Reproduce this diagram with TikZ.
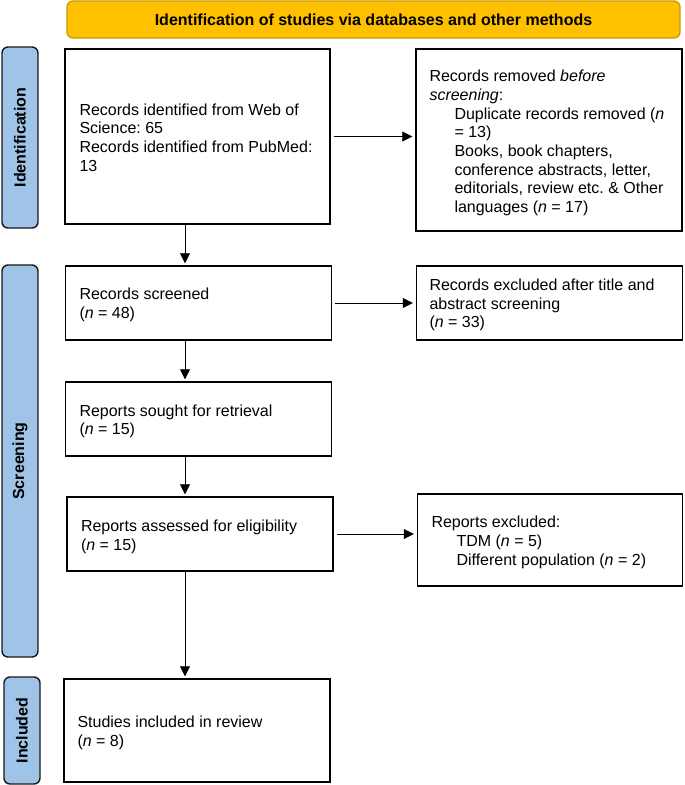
\documentclass[tikz,border=0pt]{standalone}
\usepackage{fontspec}
\setmainfont{Liberation Sans}
\usetikzlibrary{arrows.meta}
\definecolor{gold}{HTML}{FFC000}
\definecolor{goldline}{HTML}{C99A06}
\definecolor{sideblue}{HTML}{A0C4E8}
\tikzset{
  box/.style={draw=black, line width=1.4pt, fill=white, inner sep=0pt},
  boxtext/.style={anchor=west, align=left, inner sep=0pt,
    font=\fontsize{16}{18.7}\selectfont},
  side/.style={draw=black!90, line width=1.4pt, fill=sideblue, rounded corners=6pt,
    minimum width=36pt, inner sep=0pt, font=\bfseries\fontsize{16}{18}\selectfont},
  arr/.style={line width=0.8pt, -{Triangle[length=10pt,width=10pt]}},
}
\newcommand{\nn}{\textit{n}}
\newcommand{\ind}{\hspace*{25pt}}
\begin{document}
\frenchspacing
\begin{tikzpicture}[x=1pt,y=-1pt]
\useasboundingbox (0,0) rectangle (685,785);
% banner
\node[draw=goldline, line width=1.3pt, fill=gold, rounded corners=6pt,
  minimum width=613pt, minimum height=37pt, inner sep=0pt,
  font=\bfseries\fontsize{16}{18}\selectfont] (ban) at (373.5,19.5)
  {Identification of studies via databases and other methods};
% side labels
\node[side, minimum height=181pt] (sid) at (20,137.5) {\rotatebox{90}{Identification}};
\node[side, minimum height=392pt] (sscr) at (20,461) {\rotatebox{90}{Screening}};
\node[side, minimum height=107pt] (sinc) at (22,730.5) {\rotatebox{90}{Included}};
% main boxes
\node[box, minimum width=265pt, minimum height=175pt] (b1) at (197.5,136.5) {};
\node[box, minimum width=266pt, minimum height=182pt] (r1) at (549,140) {};
\node[box, minimum width=266pt, minimum height=74pt] (b2) at (198.5,303) {};
\node[box, minimum width=266pt, minimum height=74pt] (r2) at (549.5,303) {};
\node[box, minimum width=266pt, minimum height=74pt] (b3) at (198.5,419) {};
\node[box, minimum width=266pt, minimum height=74pt] (b4) at (200,534) {};
\node[box, minimum width=265pt, minimum height=92pt] (r4) at (550,540) {};
\node[box, minimum width=266pt, minimum height=103pt] (b5) at (197,730.5) {};
% texts
\node[boxtext] (b1t) at ([xshift=15pt,yshift=-1pt]b1.west)
  {Records identified from Web of\\Science: 65\\Records identified from PubMed:\\13};
\node[boxtext] (r1t) at ([xshift=14pt,yshift=-3pt]r1.west)
  {Records removed \textit{before}\\\textit{screening}:\\
   \ind Duplicate records removed (\nn\\
   \ind = 13)\\
   \ind Books, book chapters,\\
   \ind conference abstracts, letter,\\
   \ind editorials, review etc. \& Other\\
   \ind languages (\nn{} = 17)};
\node[boxtext] (b2t) at ([xshift=14.5pt,yshift=-2pt]b2.west) {Records screened\\(\nn{} = 48)};
\node[boxtext] (r2t) at ([xshift=13.5pt,yshift=-2pt]r2.west)
  {Records excluded after title and\\abstract screening\\(\nn{} = 33)};
\node[boxtext] (b3t) at ([xshift=14.5pt,yshift=-2.5pt]b3.west) {Reports sought for retrieval\\(\nn{} = 15)};
\node[boxtext] (b4t) at ([xshift=14.5pt,yshift=-3pt]b4.west) {Reports assessed for eligibility\\(\nn{} = 15)};
\node[boxtext] (r4t) at ([xshift=14.5pt,yshift=-2.5pt]r4.west)
  {Reports excluded:\\
   \ind TDM (\nn{} = 5)\\
   \ind Different population (\nn{} = 2)};
\node[boxtext] (b5t) at ([xshift=14pt,yshift=-2pt]b5.west) {Studies included in review\\(\nn{} = 8)};
% arrows
\coordinate (ax) at (185,0);
\draw[arr] ([xshift=3pt]b1.east) -- ([xshift=-3pt]b1.east -| r1.west);
\draw[arr] ([xshift=3pt]b2.east) -- ([xshift=-3pt]b2.east -| r2.west);
\draw[arr] ([xshift=3pt]b4.east) -- ([xshift=-3pt]b4.east -| r4.west);
\draw[arr] (b1.south -| ax) -- ([yshift=2pt]b2.north -| ax);
\draw[arr] (b2.south -| ax) -- ([yshift=2pt]b3.north -| ax);
\draw[arr] (b3.south -| ax) -- ([yshift=2pt]b4.north -| ax);
\draw[arr] (b4.south -| ax) -- ([yshift=2pt]b5.north -| ax);
\end{tikzpicture}
\end{document}
